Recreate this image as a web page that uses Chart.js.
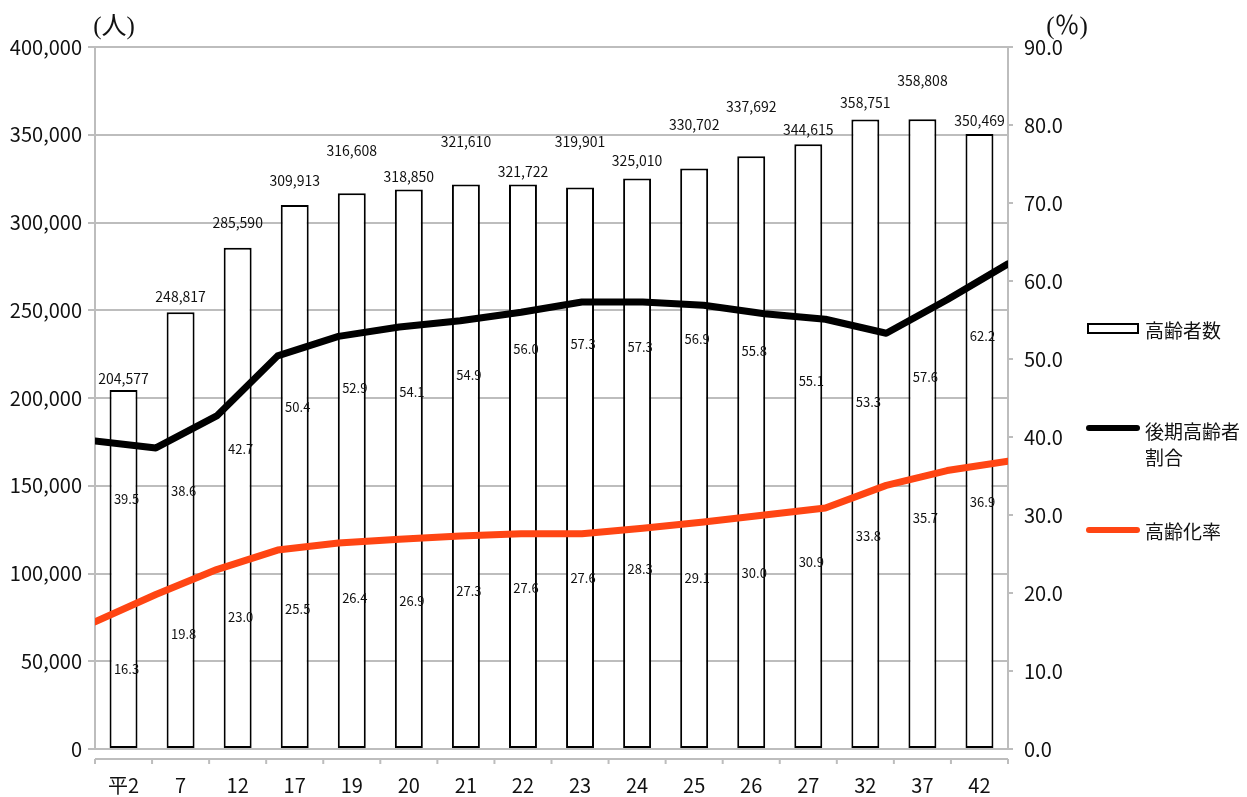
<!DOCTYPE html>
<html lang="ja">
<head>
<meta charset="utf-8">
<script src="https://cdn.jsdelivr.net/npm/chart.js@4.4.1/dist/chart.umd.min.js"></script>
<style>
  html, body { margin: 0; padding: 0; background: #fff; }
</style>
</head>
<body>
<canvas id="chart" width="1247" height="797"></canvas>
<script>
// data
const categories = ["平2", "7", "12", "17", "19", "20", "21", "22", "23", "24", "25", "26", "27", "32", "37", "42"];
const elderly = [204577, 248817, 285590, 309913, 316608, 318850, 321610, 321722, 319901, 325010, 330702, 337692, 344615, 358751, 358808, 350469];
const lateRatio = [39.5, 38.6, 42.7, 50.4, 52.9, 54.1, 54.9, 56.0, 57.3, 57.3, 56.9, 55.8, 55.1, 53.3, 57.6, 62.2];
const agingRate = [16.3, 19.8, 23.0, 25.5, 26.4, 26.9, 27.3, 27.6, 27.6, 28.3, 29.1, 30.0, 30.9, 33.8, 35.7, 36.9];
const seriesNames = ["高齢者数", "後期高齢者割合", "高齢化率"];

// where the (hand placed) value labels sit, in axis units
const elderlyLabelAt = [211000, 258000, 300000, 324000, 341000, 326000, 346000, 329000, 346000, 335000, 356000, 366000, 353000, 368000, 381000, 358000];
const lateLabelAt = [32.0, 33.1, 38.5, 43.8, 46.3, 45.8, 47.9, 51.3, 51.9, 51.5, 52.6, 51.0, 47.2, 44.5, 47.7, 52.9];
const agingLabelAt = [10.3, 14.7, 16.9, 17.9, 19.4, 19.0, 20.3, 20.6, 21.9, 23.1, 21.9, 22.6, 24.0, 27.3, 29.6, 31.7];

const FONT = "'Noto Sans CJK JP', sans-serif";
const GRID = "#bdbdbd";
const RED = "#ff4513";

Chart.defaults.font.family = FONT;
Chart.defaults.color = "#111";

// value labels for bars and both lines
const valueLabels = {
	id: "valueLabels",
	afterDatasetsDraw(chart) {
		const { ctx, scales } = chart;
		const x = scales.x, y = scales.y, y2 = scales.y2;
		ctx.save();
		ctx.fillStyle = "#111";
		ctx.textAlign = "center";
		ctx.textBaseline = "middle";
		ctx.font = "14px " + FONT;
		elderly.forEach((v, i) => {
			ctx.fillText(v.toLocaleString("en-US"), x.getPixelForValue(i), y.getPixelForValue(elderlyLabelAt[i]));
		});
		ctx.font = "13px " + FONT;
		lateRatio.forEach((v, i) => {
			ctx.fillText(v.toFixed(1), x.getPixelForValue(i) + 3, y2.getPixelForValue(lateLabelAt[i]));
		});
		agingRate.forEach((v, i) => {
			ctx.fillText(v.toFixed(1), x.getPixelForValue(i) + 3, y2.getPixelForValue(agingLabelAt[i]));
		});
		ctx.restore();
	},
};

// detached category axis below the plot, axis titles and the legend on the right
const decorations = {
	id: "decorations",
	afterDraw(chart) {
		const { ctx, chartArea, scales } = chart;
		const x = scales.x;
		ctx.save();

		// bottom axis line with tick marks between categories
		const step = x.getPixelForValue(1) - x.getPixelForValue(0);
		const start = x.getPixelForValue(0) - step / 2;
		const ay = chartArea.bottom + 10;
		ctx.strokeStyle = GRID;
		ctx.lineWidth = 2;
		ctx.beginPath();
		ctx.moveTo(chartArea.left, ay);
		ctx.lineTo(chartArea.right, ay);
		for (let i = 0; i <= categories.length; i++) {
			const px = start + i * step;
			ctx.moveTo(px, ay);
			ctx.lineTo(px, ay + 5);
		}
		ctx.stroke();

		// unit titles
		ctx.fillStyle = "#111";
		ctx.textAlign = "center";
		ctx.textBaseline = "middle";
		ctx.font = "25px 'Liberation Serif', " + FONT;
		ctx.fillText("(人)", chartArea.left + 19, 27);
		ctx.fillText("(％)", chartArea.right + 59, 27);

		// legend
		const lx = chartArea.right + 79;
		const tx = lx + 58;
		ctx.font = "19px " + FONT;
		ctx.textAlign = "left";

		ctx.fillStyle = "#fff";
		ctx.strokeStyle = "#000";
		ctx.lineWidth = 2;
		ctx.fillRect(lx + 1, 324, 50, 9);
		ctx.strokeRect(lx + 1, 324, 50, 9);
		ctx.fillStyle = "#111";
		ctx.fillText(seriesNames[0], tx, 331);

		ctx.lineCap = "round";
		ctx.lineWidth = 6;
		ctx.strokeStyle = "#000";
		ctx.beginPath();
		ctx.moveTo(lx + 2, 428);
		ctx.lineTo(lx + 50, 428);
		ctx.stroke();
		ctx.fillText("後期高齢者", tx, 432);
		ctx.fillText("割合", tx, 458);

		ctx.strokeStyle = RED;
		ctx.beginPath();
		ctx.moveTo(lx + 2, 530);
		ctx.lineTo(lx + 50, 530);
		ctx.stroke();
		ctx.fillText(seriesNames[2], tx, 532);

		ctx.restore();
	},
};

new Chart(document.getElementById("chart"), {
	data: {
		labels: categories,
		datasets: [
			{
				type: "line",
				label: seriesNames[1],
				data: lateRatio,
				xAxisID: "x2",
				yAxisID: "y2",
				borderColor: "#000",
				borderWidth: 7,
				borderCapStyle: "round",
				borderJoinStyle: "round",
				pointRadius: 0,
				tension: 0,
				clip: 0,
				order: 1,
			},
			{
				type: "line",
				label: seriesNames[2],
				data: agingRate,
				xAxisID: "x2",
				yAxisID: "y2",
				borderColor: RED,
				borderWidth: 7,
				borderCapStyle: "round",
				borderJoinStyle: "round",
				pointRadius: 0,
				tension: 0,
				clip: 0,
				order: 1,
			},
			{
				type: "bar",
				label: seriesNames[0],
				data: elderly,
				xAxisID: "x",
				yAxisID: "y",
				backgroundColor: "#fff",
				borderColor: "#000",
				borderWidth: 2,
				borderSkipped: false,
				grouped: false,
				barPercentage: 0.49,
				categoryPercentage: 1,
				order: 2,
			},
		],
	},
	options: {
		responsive: false,
		animation: false,
		layout: { padding: { top: 47, right: 164, bottom: 0, left: 0 } },
		plugins: {
			legend: { display: false },
			tooltip: { enabled: false },
		},
		scales: {
			x: {
				type: "category",
				offset: true,
				grid: { display: false, drawTicks: false },
				border: { display: false },
				ticks: { font: { size: 20 }, color: "#111", padding: 24, maxRotation: 0 },
				afterFit: (scale) => { scale.height = 48; },
			},
			x2: {
				type: "category",
				labels: categories,
				offset: false,
				display: false,
				afterFit: (scale) => { scale.height = 0; },
			},
			y: {
				position: "left",
				min: 0,
				max: 400000,
				ticks: {
					stepSize: 50000,
					font: { size: 20 },
					color: "#111",
					padding: 6,
					callback: (v) => v.toLocaleString("en-US"),
				},
				grid: { color: GRID, lineWidth: 2, tickLength: 7 },
				border: { color: GRID, width: 2 },
				afterFit: (scale) => { scale.width = 95; },
			},
			y2: {
				position: "right",
				min: 0,
				max: 90,
				ticks: {
					stepSize: 10,
					font: { size: 20 },
					color: "#111",
					padding: 11,
					callback: (v) => v.toFixed(1),
				},
				grid: { drawOnChartArea: false, color: GRID, lineWidth: 2, tickLength: 5 },
				border: { color: GRID, width: 2 },
				afterFit: (scale) => { scale.width = 75; },
			},
		},
	},
	plugins: [valueLabels, decorations],
});
</script>
</body>
</html>
